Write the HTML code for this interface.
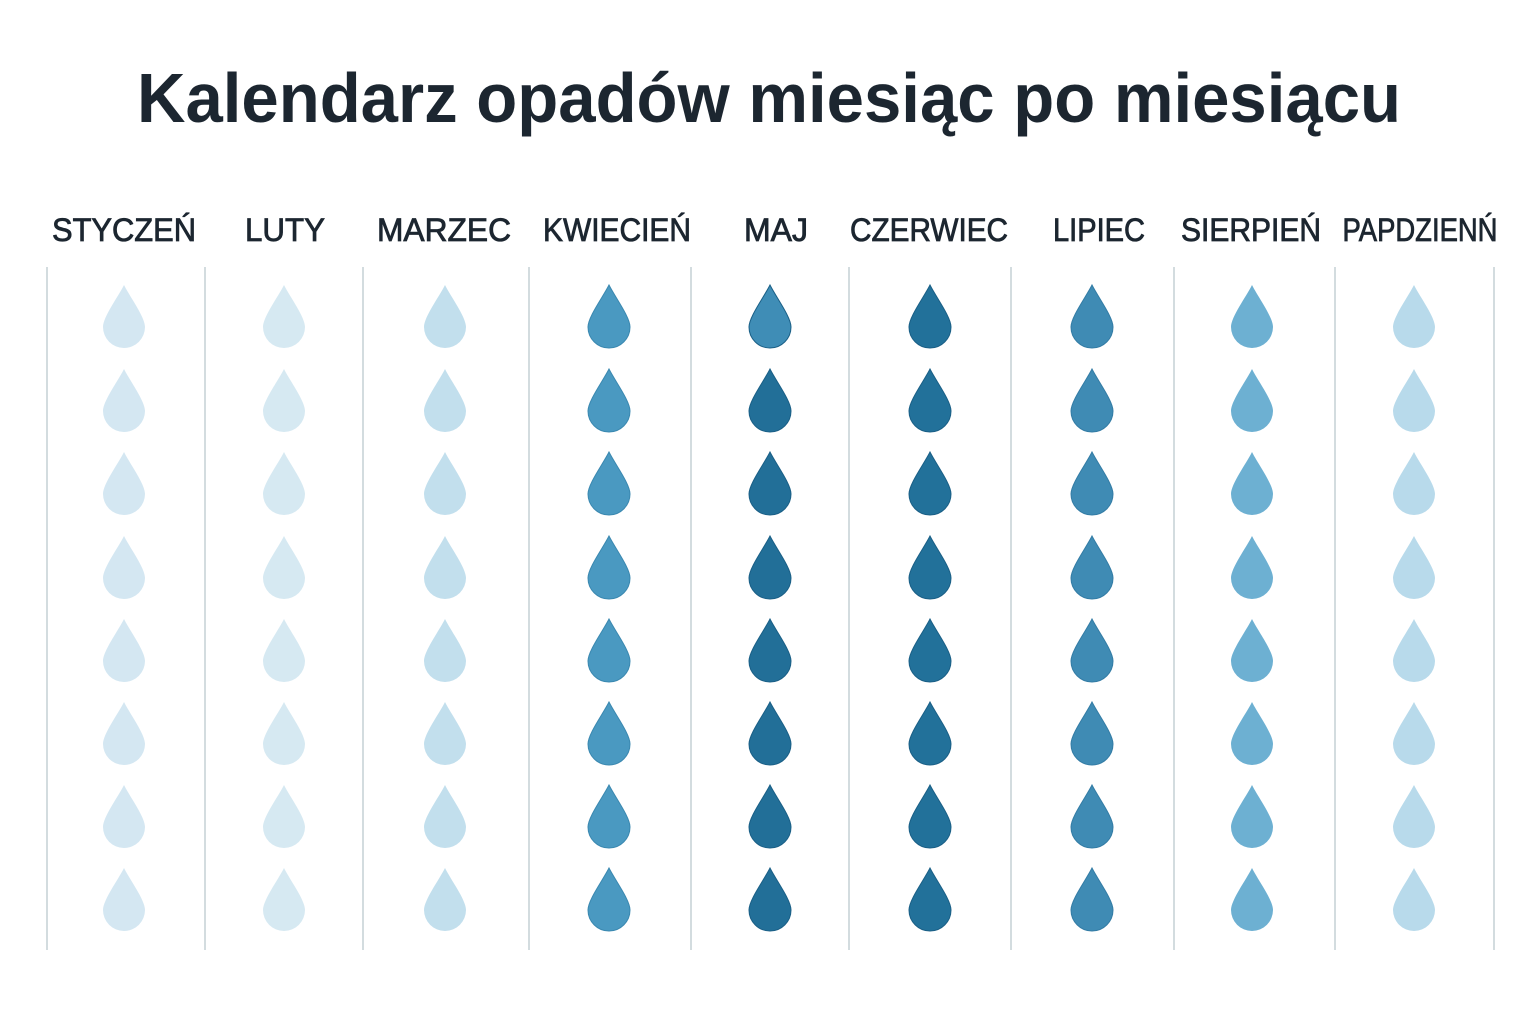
<!DOCTYPE html>
<html><head><meta charset="utf-8"><style>html,body{margin:0;padding:0;background:#fff}svg{display:block}</style></head>
<body>
<svg width="1536" height="1024" viewBox="0 0 1536 1024" xmlns="http://www.w3.org/2000/svg" xmlns:xlink="http://www.w3.org/1999/xlink">
<defs>
<path id="d" d="M0,-42 C-6,-30 -21,-10 -21,0 A21,21 0 0 0 21,0 C21,-10 6,-30 0,-42 Z"/>
</defs>
<text x="769" y="122" text-anchor="middle" font-family="Liberation Sans, sans-serif" font-weight="bold" font-size="70" fill="#1c2630" textLength="1264" lengthAdjust="spacingAndGlyphs">Kalendarz opadów miesiąc po miesiącu</text>
<g font-family="Liberation Sans, sans-serif" font-size="32" fill="#1c2630" stroke="#1c2630" stroke-width="0.8" text-anchor="middle" lengthAdjust="spacingAndGlyphs">
<text x="124" y="241" textLength="144" lengthAdjust="spacingAndGlyphs">STYCZEŃ</text>
<text x="285" y="241" textLength="80" lengthAdjust="spacingAndGlyphs">LUTY</text>
<text x="444" y="241" textLength="134" lengthAdjust="spacingAndGlyphs">MARZEC</text>
<text x="617" y="241" textLength="148" lengthAdjust="spacingAndGlyphs">KWIECIEŃ</text>
<text x="776" y="241" textLength="64" lengthAdjust="spacingAndGlyphs">MAJ</text>
<text x="929" y="241" textLength="158" lengthAdjust="spacingAndGlyphs">CZERWIEC</text>
<text x="1099" y="241" textLength="92" lengthAdjust="spacingAndGlyphs">LIPIEC</text>
<text x="1251" y="241" textLength="140" lengthAdjust="spacingAndGlyphs">SIERPIEŃ</text>
<text x="1420" y="241" textLength="155" lengthAdjust="spacingAndGlyphs">PAPDZIENŃ</text>
</g>
<g stroke="#d3dcdf" stroke-width="2">
<line x1="47" y1="267" x2="47" y2="950"/><line x1="205" y1="267" x2="205" y2="950"/><line x1="363" y1="267" x2="363" y2="950"/><line x1="529" y1="267" x2="529" y2="950"/><line x1="691" y1="267" x2="691" y2="950"/><line x1="849" y1="267" x2="849" y2="950"/><line x1="1011" y1="267" x2="1011" y2="950"/><line x1="1174" y1="267" x2="1174" y2="950"/><line x1="1335" y1="267" x2="1335" y2="950"/><line x1="1494" y1="267" x2="1494" y2="950"/>
</g>
<!-- Jan -->
<g fill="#d4e7f2">
<use xlink:href="#d" href="#d" x="124" y="327"/><use xlink:href="#d" href="#d" x="124" y="411"/><use xlink:href="#d" href="#d" x="124" y="494"/><use xlink:href="#d" href="#d" x="124" y="578"/><use xlink:href="#d" href="#d" x="124" y="661"/><use xlink:href="#d" href="#d" x="124" y="744"/><use xlink:href="#d" href="#d" x="124" y="827"/><use xlink:href="#d" href="#d" x="124" y="910"/>
</g>
<!-- Feb -->
<g fill="#d6e9f2">
<use xlink:href="#d" href="#d" x="284" y="327"/><use xlink:href="#d" href="#d" x="284" y="411"/><use xlink:href="#d" href="#d" x="284" y="494"/><use xlink:href="#d" href="#d" x="284" y="578"/><use xlink:href="#d" href="#d" x="284" y="661"/><use xlink:href="#d" href="#d" x="284" y="744"/><use xlink:href="#d" href="#d" x="284" y="827"/><use xlink:href="#d" href="#d" x="284" y="910"/>
</g>
<!-- Mar -->
<g fill="#c2dfed">
<use xlink:href="#d" href="#d" x="445" y="327"/><use xlink:href="#d" href="#d" x="445" y="411"/><use xlink:href="#d" href="#d" x="445" y="494"/><use xlink:href="#d" href="#d" x="445" y="578"/><use xlink:href="#d" href="#d" x="445" y="661"/><use xlink:href="#d" href="#d" x="445" y="744"/><use xlink:href="#d" href="#d" x="445" y="827"/><use xlink:href="#d" href="#d" x="445" y="910"/>
</g>
<!-- Apr -->
<g fill="#4a99c1" stroke="#3a88b0" stroke-width="1">
<use xlink:href="#d" href="#d" x="609" y="327"/><use xlink:href="#d" href="#d" x="609" y="411"/><use xlink:href="#d" href="#d" x="609" y="494"/><use xlink:href="#d" href="#d" x="609" y="578"/><use xlink:href="#d" href="#d" x="609" y="661"/><use xlink:href="#d" href="#d" x="609" y="744"/><use xlink:href="#d" href="#d" x="609" y="827"/><use xlink:href="#d" href="#d" x="609" y="910"/>
</g>
<!-- May -->
<g stroke="#1a5f86" stroke-width="1">
<use xlink:href="#d" href="#d" x="770" y="327" fill="#3f8db6"/>
<g fill="#226f98"><use xlink:href="#d" href="#d" x="770" y="411"/><use xlink:href="#d" href="#d" x="770" y="494"/><use xlink:href="#d" href="#d" x="770" y="578"/><use xlink:href="#d" href="#d" x="770" y="661"/><use xlink:href="#d" href="#d" x="770" y="744"/><use xlink:href="#d" href="#d" x="770" y="827"/><use xlink:href="#d" href="#d" x="770" y="910"/></g>
</g>
<!-- Jun -->
<g fill="#22719a" stroke="#1a5f86" stroke-width="1">
<use xlink:href="#d" href="#d" x="930" y="327"/><use xlink:href="#d" href="#d" x="930" y="411"/><use xlink:href="#d" href="#d" x="930" y="494"/><use xlink:href="#d" href="#d" x="930" y="578"/><use xlink:href="#d" href="#d" x="930" y="661"/><use xlink:href="#d" href="#d" x="930" y="744"/><use xlink:href="#d" href="#d" x="930" y="827"/><use xlink:href="#d" href="#d" x="930" y="910"/>
</g>
<!-- Jul -->
<g fill="#3f8bb4" stroke="#337ca5" stroke-width="1">
<use xlink:href="#d" href="#d" x="1092" y="327"/><use xlink:href="#d" href="#d" x="1092" y="411"/><use xlink:href="#d" href="#d" x="1092" y="494"/><use xlink:href="#d" href="#d" x="1092" y="578"/><use xlink:href="#d" href="#d" x="1092" y="661"/><use xlink:href="#d" href="#d" x="1092" y="744"/><use xlink:href="#d" href="#d" x="1092" y="827"/><use xlink:href="#d" href="#d" x="1092" y="910"/>
</g>
<!-- Aug -->
<g fill="#6db0d2">
<use xlink:href="#d" href="#d" x="1252" y="327"/><use xlink:href="#d" href="#d" x="1252" y="411"/><use xlink:href="#d" href="#d" x="1252" y="494"/><use xlink:href="#d" href="#d" x="1252" y="578"/><use xlink:href="#d" href="#d" x="1252" y="661"/><use xlink:href="#d" href="#d" x="1252" y="744"/><use xlink:href="#d" href="#d" x="1252" y="827"/><use xlink:href="#d" href="#d" x="1252" y="910"/>
</g>
<!-- Oct -->
<g fill="#b8daeb">
<use xlink:href="#d" href="#d" x="1414" y="327"/><use xlink:href="#d" href="#d" x="1414" y="411"/><use xlink:href="#d" href="#d" x="1414" y="494"/><use xlink:href="#d" href="#d" x="1414" y="578"/><use xlink:href="#d" href="#d" x="1414" y="661"/><use xlink:href="#d" href="#d" x="1414" y="744"/><use xlink:href="#d" href="#d" x="1414" y="827"/><use xlink:href="#d" href="#d" x="1414" y="910"/>
</g>
</svg>
</body></html>
